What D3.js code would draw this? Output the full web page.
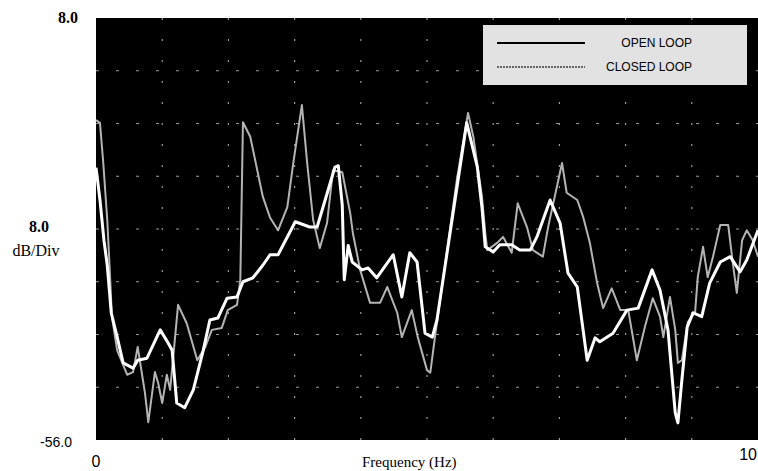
<!DOCTYPE html>
<html>
<head>
<meta charset="utf-8">
<script src="https://cdn.jsdelivr.net/npm/d3@7"></script>
<style>
  body { margin: 0; background: #fff; }
  svg { display: block; }
</style>
</head>
<body>
<svg id="chart" width="758" height="471"></svg>
<script>
// open loop response (Hz, dB)
const openFreq = [0.00, 0.06, 0.12, 0.17, 0.23, 0.32, 0.41, 0.56, 0.63, 0.77, 0.97, 1.09, 1.15, 1.22, 1.34, 1.47,
    1.62, 1.72, 1.84, 1.98, 2.13, 2.22, 2.37, 2.52, 2.63, 2.75, 3.01, 3.23, 3.34, 3.61, 3.66, 3.72, 3.75, 3.81,
    3.87, 4.02, 4.11, 4.24, 4.49, 4.62, 4.74, 4.85, 4.97, 5.08, 5.15, 5.60, 5.76, 5.83, 5.88, 6.00, 6.10, 6.28,
    6.40, 6.56, 6.66, 6.86, 7.01, 7.13, 7.27, 7.42, 7.54, 7.61, 7.81, 8.02, 8.19, 8.40, 8.52, 8.64, 8.75, 8.79,
    8.85, 8.93, 9.02, 9.15, 9.27, 9.43, 9.58, 9.73, 9.83, 10.0];
const openDb = [-14.7, -19.6, -25.7, -29.5, -36.7, -40.4, -44.3, -45.1, -43.9, -43.6, -39.3, -41.3, -42.4, -50.4, -51.1, -48.4,
    -42.4, -37.8, -37.5, -34.5, -34.3, -32.0, -31.4, -29.5, -27.9, -27.9, -22.9, -23.7, -23.7, -14.6, -14.4, -20.4, -31.7, -26.5,
    -29.0, -30.2, -29.9, -31.4, -27.9, -34.3, -27.6, -29.0, -39.8, -40.4, -37.8, -7.9, -14.6, -20.7, -26.7, -27.5, -26.4, -26.4,
    -27.2, -27.2, -25.2, -19.6, -23.1, -30.7, -32.8, -43.9, -40.5, -41.1, -39.8, -36.3, -36.0, -30.2, -33.3, -39.3, -51.9, -53.4,
    -46.9, -38.9, -36.7, -37.3, -32.2, -29.0, -28.2, -30.5, -28.7, -24.2];

// closed loop response (Hz, dB)
const closedFreq = [0.00, 0.06, 0.11, 0.17, 0.21, 0.24, 0.32, 0.47, 0.56, 0.63, 0.74, 0.79, 0.89, 0.94, 1.00, 1.07, 1.12,
    1.24, 1.37, 1.53, 1.65, 1.75, 1.90, 1.99, 2.13, 2.18, 2.22, 2.33, 2.52, 2.63, 2.75, 2.89, 2.98, 3.11, 3.19, 3.28,
    3.38, 3.49, 3.58, 3.72, 3.84, 3.88, 3.99, 4.14, 4.29, 4.40, 4.55, 4.62, 4.77, 4.86, 5.00, 5.05, 5.12, 5.45, 5.62,
    5.70, 5.83, 5.88, 5.91, 6.06, 6.15, 6.28, 6.37, 6.51, 6.60, 6.75, 6.83, 7.04, 7.11, 7.27, 7.36, 7.46, 7.57, 7.66,
    7.79, 7.92, 8.04, 8.17, 8.29, 8.41, 8.52, 8.57, 8.67, 8.75, 8.79, 8.85, 8.94, 9.05, 9.09, 9.17, 9.24, 9.32, 9.43,
    9.55, 9.62, 9.68, 9.76, 9.83, 9.92, 10.0];
const closedDb = [-7.5, -7.9, -14.0, -22.6, -30.7, -37.3, -42.4, -46.1, -45.7, -41.9, -48.9, -53.3, -45.7, -47.4, -50.4, -46.1, -48.4,
    -35.5, -38.3, -43.9, -41.9, -39.3, -39.0, -36.3, -35.5, -31.7, -7.8, -10.0, -19.1, -22.3, -24.2, -20.7, -14.0, -5.2, -14.0, -22.6,
    -26.9, -23.1, -15.1, -15.4, -21.6, -24.6, -30.2, -35.2, -35.2, -32.8, -36.7, -40.4, -36.3, -40.4, -45.4, -45.8, -40.4, -16.6, -6.4,
    -10.0, -19.1, -24.6, -27.2, -26.1, -25.2, -27.6, -20.1, -23.7, -27.2, -28.2, -23.7, -14.0, -18.5, -19.6, -22.2, -26.1, -32.2, -36.0,
    -33.0, -36.3, -36.3, -43.9, -38.9, -34.5, -37.3, -40.4, -34.3, -39.3, -44.3, -43.9, -38.1, -36.6, -31.3, -26.7, -31.3, -28.2, -23.4,
    -23.4, -29.2, -33.7, -25.7, -24.2, -25.7, -28.2];

const xGrid = [1, 2, 3, 4, 5, 6, 7, 8, 9];
const yGrid = [0, -8, -16, -24, -32, -40, -48];
const legendLabels = ["OPEN LOOP", "CLOSED LOOP"];

const svg = d3.select("#chart");
const plot = {left: 96, right: 758, top: 18, bottom: 440};

const x = d3.scaleLinear().domain([0, 10]).range([plot.left, plot.right]);
const y = d3.scaleLinear().domain([-56, 8]).range([plot.bottom, plot.top]);

// black screen
svg.append("rect")
    .attr("x", plot.left).attr("y", plot.top)
    .attr("width", plot.right - plot.left).attr("height", plot.bottom - plot.top)
    .attr("fill", "#000");

// sparse dotted grid
svg.append("g").selectAll("line").data(yGrid).join("line")
    .attr("x1", plot.left).attr("x2", plot.right)
    .attr("y1", d => y(d)).attr("y2", d => y(d))
    .attr("stroke", "#9a9a9a").attr("stroke-width", 1.2)
    .attr("stroke-dasharray", "3,17");

svg.append("g").selectAll("line").data(xGrid).join("line")
    .attr("x1", d => x(d)).attr("x2", d => x(d))
    .attr("y1", plot.top).attr("y2", plot.bottom)
    .attr("stroke", "#9a9a9a").attr("stroke-width", 1.2)
    .attr("stroke-dasharray", "2,19");

const line = d3.line()
    .x(d => x(d[0]))
    .y(d => y(d[1]));

const closed = closedFreq.map((f, i) => [f, closedDb[i]]);
const open = openFreq.map((f, i) => [f, openDb[i]]);

svg.append("path")
    .datum(closed)
    .attr("d", line)
    .attr("fill", "none")
    .attr("stroke", "#b4b4b4")
    .attr("stroke-width", 2)
    .attr("stroke-linejoin", "round");

svg.append("path")
    .datum(open)
    .attr("d", line)
    .attr("fill", "none")
    .attr("stroke", "#fff")
    .attr("stroke-width", 3)
    .attr("stroke-linejoin", "round");

// legend
const lg = svg.append("g");
lg.append("rect")
    .attr("x", 483).attr("y", 25).attr("width", 264).attr("height", 60)
    .attr("fill", "#e2e2e2");
lg.append("line")
    .attr("x1", 497).attr("x2", 585).attr("y1", 43).attr("y2", 43)
    .attr("stroke", "#000").attr("stroke-width", 2);
lg.append("line")
    .attr("x1", 497).attr("x2", 585).attr("y1", 67).attr("y2", 67)
    .attr("stroke", "#666").attr("stroke-width", 2)
    .attr("stroke-dasharray", "2,1");
lg.selectAll("text").data(legendLabels).join("text")
    .attr("x", 692)
    .attr("y", (d, i) => 47 + i * 24)
    .attr("text-anchor", "end")
    .attr("font-family", "Liberation Sans Narrow, Liberation Sans, sans-serif")
    .attr("font-size", 12)
    .attr("fill", "#000")
    .text(d => d);

// axis labels
const serif = "Liberation Serif, DejaVu Serif, serif";
const sans = "Liberation Sans, Arial, sans-serif";

svg.append("text").attr("x", 78).attr("y", y(8) + 5)
    .attr("text-anchor", "end").attr("font-family", serif).attr("font-weight", "bold")
    .attr("font-size", 16).text("8.0");
svg.append("text").attr("x", 39).attr("y", y(-24) + 3)
    .attr("text-anchor", "middle").attr("font-family", serif).attr("font-weight", "bold")
    .attr("font-size", 16).text("8.0");
svg.append("text").attr("x", 36).attr("y", y(-24) + 27)
    .attr("text-anchor", "middle").attr("font-family", serif)
    .attr("font-size", 16).text("dB/Div");
svg.append("text").attr("x", 72).attr("y", y(-56) + 7)
    .attr("text-anchor", "end").attr("font-family", sans)
    .attr("font-size", 14).text("-56.0");
svg.append("text").attr("x", x(0)).attr("y", 467)
    .attr("text-anchor", "middle").attr("font-family", sans)
    .attr("font-size", 16).text("0");
svg.append("text").attr("x", x(10) - 1).attr("y", 460)
    .attr("text-anchor", "end").attr("font-family", sans)
    .attr("font-size", 16).text("10");
svg.append("text").attr("x", 362).attr("y", 467)
    .attr("text-anchor", "start").attr("font-family", serif)
    .attr("font-size", 15).text("Frequency (Hz)");
</script>
</body>
</html>
